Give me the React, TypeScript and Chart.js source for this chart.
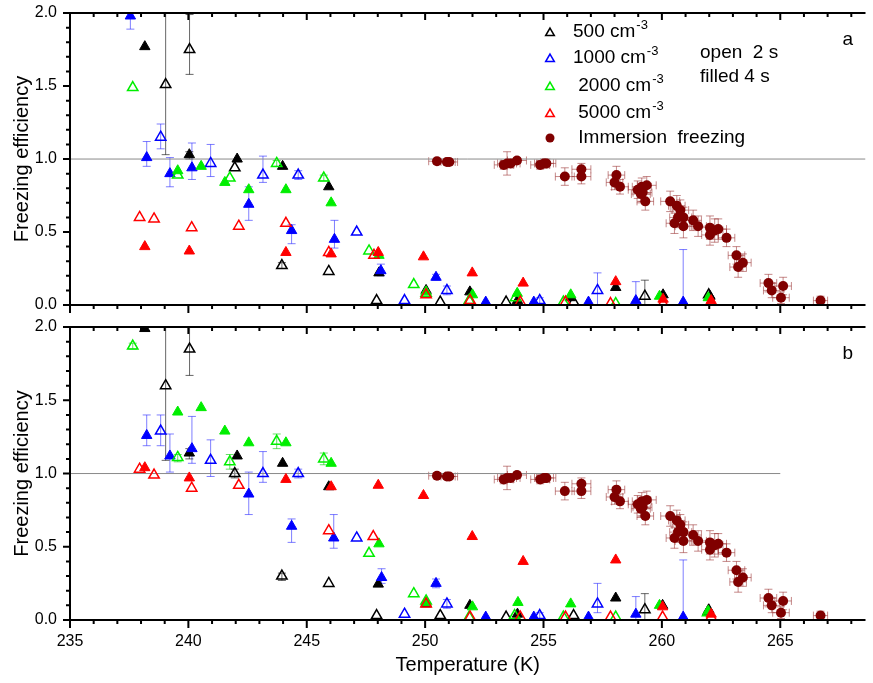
import React, { useEffect, useRef } from 'react';
import { Chart, registerables } from 'chart.js';

Chart.register(...registerables);

const FONT = '"Liberation Sans", Arial, Helvetica, sans-serif';

// ---------- axes ----------
const X_MIN = 235;
const X_MAX = 268.6;
const X_MAJOR = 5;
const X_MINOR = 1;
const Y_MIN = 0;
const Y_MAX = 2;
const Y_MAJOR = 0.5;
const Y_MINOR = 0.1;
const REF_Y = 1;
const REF_A_X = [235, 268.6];
const REF_B_X = [235, 265];

// ---------- series meta ----------
const SERIES_LABELS = ['500 cm', '1000 cm', ' 2000 cm', ' 5000 cm'];
const SERIES_COLORS = ['#000000', '#0000ff', '#00ee00', '#ff0000'];
const ERR_COLORS = ['rgba(0,0,0,0.6)', 'rgba(40,40,255,0.6)', 'rgba(0,200,0,0.6)', 'rgba(255,0,0,0.6)'];
const IMM_LABEL = ' Immersion  freezing';
const IMM_COLOR = '#800000';
const IMM_ERR_COLOR = 'rgba(150,40,40,0.55)';

// rows: [T, efficiency, errLow?, errHigh?]
// ---------- panel a ----------
const A500_OPEN = [
  [239.04, 1.51, 1.03, 2.6], [240.05, 1.75, 1.58, 1.99], [241.96, 0.94], [243.95, 0.27, 0.25, 0.29],
  [245.93, 0.23], [247.95, 0.03], [250.64, 0.02], [253.42, 0.02], [256.27, 0.02],
  [259.28, 0.06, 0, 0.17], [261.98, 0.07],
];
const A500_FILL = [
  [238.16, 1.77], [240.04, 1.03, 1.0, 1.05], [242.06, 1.0], [243.98, 0.95], [245.93, 0.81],
  [248.05, 0.22], [250.04, 0.1], [251.89, 0.09], [253.9, 0.03], [256.13, 0.05], [258.05, 0.12],
  [260.05, 0.07], [262.03, 0.06],
];
const A1000_OPEN = [
  [238.83, 1.15, 1.07, 1.24], [240.94, 0.97, 0.88, 1.1], [243.15, 0.89, 0.84, 1.02],
  [244.64, 0.89, 0.86, 0.92], [247.11, 0.5], [249.13, 0.03], [250.92, 0.1, 0.07, 0.13],
  [254.84, 0.03, 0, 0.05], [257.28, 0.1, 0, 0.22],
];
const A1000_FILL = [
  [237.55, 1.98, 1.89, 2.1], [238.24, 1.01, 0.95, 1.12], [239.22, 0.9, 0.81, 1.01],
  [240.15, 0.94, 0.86, 1.11], [242.55, 0.69, 0.58, 0.81], [244.36, 0.51, 0.42, 0.55],
  [246.17, 0.45, 0.39, 0.58], [248.13, 0.235, 0.2, 0.28], [250.46, 0.19, 0.17, 0.21],
  [252.56, 0.02], [254.59, 0.02], [256.9, 0.02], [258.9, 0.03, 0, 0.16], [260.9, 0.02, 0, 0.38],
];
const A2000_OPEN = [
  [237.65, 1.49], [239.55, 0.89], [241.75, 0.87], [243.73, 0.97, 0.95, 0.99], [245.72, 0.87, 0.85, 0.89],
  [247.63, 0.37], [249.52, 0.14], [250.04, 0.08], [251.86, 0.03], [253.82, 0.05], [255.84, 0.02],
  [258.05, 0.01],
];
const A2000_FILL = [
  [239.55, 0.92], [240.54, 0.95], [241.54, 0.84], [242.55, 0.79], [244.12, 0.79], [246.03, 0.7],
  [248.05, 0.34], [250.04, 0.09], [252.0, 0.07], [253.89, 0.08], [256.15, 0.07], [259.9, 0.06],
  [261.96, 0.05],
];
const A5000_OPEN = [
  [237.94, 0.6], [238.55, 0.59], [240.14, 0.53], [242.13, 0.54], [244.12, 0.56], [245.93, 0.36],
  [247.84, 0.34], [250.04, 0.07], [251.9, 0.03], [254.02, 0.02], [255.93, 0.02], [257.83, 0.01],
  [260.05, 0.01], [262.08, 0.01],
];
const A5000_FILL = [
  [238.16, 0.4], [240.04, 0.37], [244.12, 0.36], [246.03, 0.35], [248.02, 0.36], [249.93, 0.33],
  [251.99, 0.22], [254.14, 0.15], [258.05, 0.16], [260.05, 0.04], [262.08, 0.03],
];

// ---------- panel b ----------
const B500_OPEN = [
  [239.04, 1.6, 1.09, 2.6], [240.05, 1.85, 1.67, 2.1], [241.96, 1.0, 0.97, 1.03], [243.95, 0.3, 0.27, 0.32],
  [245.93, 0.25], [247.95, 0.03], [250.64, 0.03], [253.42, 0.02], [256.27, 0.03],
  [259.28, 0.07, 0, 0.18], [261.96, 0.06],
];
const B500_FILL = [
  [238.16, 1.99], [240.04, 1.14, 1.1, 1.17], [242.06, 1.12], [243.98, 1.07], [245.93, 0.91],
  [248.02, 0.245], [250.04, 0.11], [251.89, 0.1], [253.9, 0.04], [258.05, 0.15], [260.03, 0.1],
  [261.98, 0.07],
];
const B1000_OPEN = [
  [238.83, 1.29, 1.19, 1.4], [240.94, 1.09, 0.98, 1.23], [243.15, 1.0, 0.94, 1.15],
  [244.64, 1.0, 0.97, 1.03], [247.11, 0.56], [249.13, 0.04], [250.92, 0.11, 0.08, 0.14],
  [254.84, 0.03, 0, 0.05], [257.28, 0.11, 0.05, 0.25],
];
const B1000_FILL = [
  [238.24, 1.26, 1.19, 1.4], [239.22, 1.12, 1.01, 1.27], [240.15, 1.17, 1.07, 1.39],
  [242.55, 0.86, 0.72, 1.01], [244.36, 0.64, 0.53, 0.69], [246.14, 0.56, 0.49, 0.72],
  [248.16, 0.29, 0.25, 0.35], [250.46, 0.25, 0.22, 0.28], [252.56, 0.02], [254.59, 0.02],
  [256.9, 0.02], [258.9, 0.04, 0, 0.16], [260.9, 0.02, 0, 0.41],
];
const B2000_OPEN = [
  [237.65, 1.87, 1.85, 1.89], [239.55, 1.11, 1.08, 1.13], [241.75, 1.08, 1.03, 1.13],
  [243.73, 1.22, 1.17, 1.27], [245.72, 1.1, 1.06, 1.14], [247.63, 0.455], [249.52, 0.18],
  [250.04, 0.13], [251.86, 0.02], [253.78, 0.03], [255.84, 0.02], [258.05, 0.02], [261.93, 0.05],
];
const B2000_FILL = [
  [239.55, 1.42], [240.54, 1.45], [241.54, 1.29], [242.55, 1.21], [244.12, 1.21], [246.03, 1.07],
  [248.05, 0.52], [250.04, 0.12], [252.0, 0.09], [253.92, 0.12], [256.15, 0.11], [259.9, 0.1],
  [261.96, 0.06],
];
const B5000_OPEN = [
  [237.94, 1.03], [238.55, 0.99], [240.14, 0.9], [242.13, 0.92], [245.93, 0.61], [247.81, 0.57],
  [250.04, 0.11], [251.9, 0.02], [254.02, 0.02], [255.93, 0.02], [257.83, 0.02], [260.03, 0.02],
  [262.08, 0.02],
];
const B5000_FILL = [
  [238.16, 1.04], [240.04, 0.97], [244.12, 0.96], [246.03, 0.91], [248.02, 0.92], [249.93, 0.85],
  [251.99, 0.57], [254.14, 0.4], [258.05, 0.41], [260.03, 0.09], [262.08, 0.04],
];

// immersion freezing: [T, efficiency, T error, efficiency error]
const IMMERSION = [
  [250.5, 0.985, 0.35, 0.02], [250.92, 0.98, 0.35, 0.02], [251.02, 0.98, 0.35, 0.02],
  [253.32, 0.96, 0.4, 0.03], [253.46, 0.97, 0.4, 0.08], [253.61, 0.97, 0.4, 0.03], [253.88, 0.99, 0.4, 0.02],
  [254.86, 0.96, 0.4, 0.03], [255.02, 0.97, 0.4, 0.03], [255.12, 0.97, 0.4, 0.03],
  [255.9, 0.88, 0.4, 0.06], [256.6, 0.93, 0.4, 0.04], [256.6, 0.88, 0.4, 0.05],
  [258.08, 0.89, 0.35, 0.06], [258.0, 0.84, 0.35, 0.05], [258.23, 0.81, 0.35, 0.05],
  [259.15, 0.81, 0.4, 0.06], [258.98, 0.79, 0.4, 0.06], [259.18, 0.77, 0.4, 0.06],
  [259.36, 0.82, 0.4, 0.06], [259.11, 0.76, 0.4, 0.06], [259.3, 0.71, 0.35, 0.06],
  [260.35, 0.71, 0.4, 0.07], [260.63, 0.68, 0.35, 0.07], [260.78, 0.65, 0.35, 0.07],
  [260.91, 0.6, 0.35, 0.07], [260.68, 0.6, 0.35, 0.07], [260.53, 0.56, 0.35, 0.07],
  [260.91, 0.54, 0.35, 0.08], [261.32, 0.58, 0.35, 0.07], [261.53, 0.54, 0.35, 0.07],
  [262.03, 0.53, 0.35, 0.08], [262.03, 0.48, 0.35, 0.07], [262.23, 0.51, 0.35, 0.08],
  [262.38, 0.52, 0.35, 0.07], [262.73, 0.46, 0.35, 0.06], [263.15, 0.34, 0.35, 0.06],
  [263.22, 0.26, 0.35, 0.07], [263.42, 0.29, 0.35, 0.06], [264.5, 0.15, 0.35, 0.06],
  [264.64, 0.1, 0.35, 0.05], [265.03, 0.05, 0.35, 0.04], [265.12, 0.13, 0.35, 0.06],
  [266.7, 0.03, 0.3, 0.03],
];

const PANEL_A = { open: [A500_OPEN, A1000_OPEN, A2000_OPEN, A5000_OPEN], fill: [A500_FILL, A1000_FILL, A2000_FILL, A5000_FILL], ref: REF_A_X };
const PANEL_B = { open: [B500_OPEN, B1000_OPEN, B2000_OPEN, B5000_OPEN], fill: [B500_FILL, B1000_FILL, B2000_FILL, B5000_FILL], ref: REF_B_X };

function toPoints(rows: number[][]) {
  return rows.map((r) => ({ x: r[0], y: r[1], lo: r.length > 2 ? r[2] : null, hi: r.length > 3 ? r[3] : null }));
}
function toImmersion(rows: number[][]) {
  return rows.map((r) => ({ x: r[0], y: r[1], xlo: r[0] - r[2], xhi: r[0] + r[2], lo: r[1] - r[3], hi: r[1] + r[3] }));
}

const errorBarPlugin = {
  id: 'errorBars',
  beforeDatasetsDraw(chart: any) {
    const { ctx, chartArea: a, scales } = chart;
    const xs = scales.x;
    const ys = scales.y;
    ctx.save();
    ctx.beginPath();
    ctx.rect(a.left, a.top, a.right - a.left, a.bottom - a.top);
    ctx.clip();
    chart.data.datasets.forEach((ds: any) => {
      const eb = ds.errorBar;
      if (!eb) return;
      ctx.strokeStyle = eb.color;
      ctx.lineWidth = 1;
      const cap = eb.cap;
      ds.data.forEach((p: any) => {
        const px = xs.getPixelForValue(p.x);
        const py = ys.getPixelForValue(p.y);
        ctx.beginPath();
        if (p.lo != null && p.hi != null) {
          const y1 = ys.getPixelForValue(p.lo);
          const y2 = ys.getPixelForValue(p.hi);
          ctx.moveTo(px, y1); ctx.lineTo(px, y2);
          ctx.moveTo(px - cap, y1); ctx.lineTo(px + cap, y1);
          ctx.moveTo(px - cap, y2); ctx.lineTo(px + cap, y2);
        }
        if (p.xlo != null && p.xhi != null) {
          const x1 = xs.getPixelForValue(p.xlo);
          const x2 = xs.getPixelForValue(p.xhi);
          ctx.moveTo(x1, py); ctx.lineTo(x2, py);
          ctx.moveTo(x1, py - cap); ctx.lineTo(x1, py + cap);
          ctx.moveTo(x2, py - cap); ctx.lineTo(x2, py + cap);
        }
        ctx.stroke();
      });
    });
    ctx.restore();
  },
};

const framePlugin = {
  id: 'frame',
  afterDraw(chart: any) {
    const { ctx, chartArea: a, scales } = chart;
    const xs = scales.x;
    const ys = scales.y;
    ctx.save();
    ctx.strokeStyle = '#000';
    ctx.lineWidth = 2;
    ctx.beginPath();
    ctx.moveTo(a.left, a.top); ctx.lineTo(a.right, a.top);
    ctx.moveTo(a.left, a.top - 1); ctx.lineTo(a.left, a.bottom + 1);
    ctx.moveTo(a.left, a.bottom); ctx.lineTo(a.right, a.bottom);
    const nx = Math.floor((X_MAX - X_MIN) / X_MINOR + 1e-9);
    for (let i = 0; i <= nx; i++) {
      const v = X_MIN + i * X_MINOR;
      const px = xs.getPixelForValue(v);
      const major = Math.abs(v / X_MAJOR - Math.round(v / X_MAJOR)) < 1e-6;
      ctx.moveTo(px, a.bottom); ctx.lineTo(px, a.bottom + (major ? 8 : 4));
      ctx.moveTo(px, a.top); ctx.lineTo(px, a.top + (major ? 7 : 4));
    }
    const ny = Math.round((Y_MAX - Y_MIN) / Y_MINOR);
    for (let i = 0; i <= ny; i++) {
      const v = Y_MIN + i * Y_MINOR;
      const py = ys.getPixelForValue(v);
      const major = Math.abs(v / Y_MAJOR - Math.round(v / Y_MAJOR)) < 1e-6;
      ctx.moveTo(a.left, py); ctx.lineTo(a.left - (major ? 7 : 4), py);
    }
    ctx.stroke();
    ctx.restore();
  },
};

function drawTriangle(ctx: CanvasRenderingContext2D, x: number, y: number, r: number) {
  ctx.beginPath();
  for (let k = 0; k < 3; k++) {
    const ang = (k * 2 * Math.PI) / 3;
    const px = x + Math.sin(ang) * r;
    const py = y - Math.cos(ang) * r;
    if (k === 0) ctx.moveTo(px, py); else ctx.lineTo(px, py);
  }
  ctx.closePath();
}

function makeOverlay(panelLetter: string, withLegend: boolean) {
  return {
    id: 'overlay',
    afterDraw(chart: any) {
      const ctx = chart.ctx as CanvasRenderingContext2D;
      const a = chart.chartArea;
      ctx.save();
      ctx.fillStyle = '#000';
      ctx.textAlign = 'left';
      ctx.textBaseline = 'middle';
      ctx.font = `19px ${FONT}`;
      ctx.fillText(panelLetter, a.right - 23, a.top + 27);
      if (withLegend) {
        const mx = 550;
        const tx = 573;
        const rows = [32, 58, 86, 113, 138];
        SERIES_LABELS.forEach((lab, i) => {
          const y = rows[i];
          ctx.strokeStyle = SERIES_COLORS[i];
          ctx.lineWidth = 1.5;
          drawTriangle(ctx, mx, y + 1, 5);
          ctx.stroke();
          ctx.fillStyle = '#000';
          ctx.font = `19px ${FONT}`;
          ctx.fillText(lab, tx, y);
          const w = ctx.measureText(lab).width;
          ctx.font = `13px ${FONT}`;
          ctx.fillText('-3', tx + w + 1, y - 7);
        });
        const yi = rows[4];
        ctx.fillStyle = IMM_COLOR;
        ctx.beginPath();
        ctx.arc(mx, yi, 4.5, 0, Math.PI * 2);
        ctx.fill();
        ctx.fillStyle = '#000';
        ctx.font = `19px ${FONT}`;
        ctx.fillText(IMM_LABEL, tx, yi);
        ctx.fillText('open  2 s', 700, 53);
        ctx.fillText('filled 4 s', 700, 77);
      }
      ctx.restore();
    },
  };
}

function buildDatasets(panel: any) {
  const ds: any[] = [];
  for (let i = 3; i >= 0; i--) {
    ds.push({
      label: SERIES_LABELS[i] + ' filled',
      data: toPoints(panel.fill[i]),
      pointStyle: 'triangle',
      pointRadius: 6,
      borderColor: SERIES_COLORS[i],
      backgroundColor: SERIES_COLORS[i],
      borderWidth: 1,
      errorBar: { color: ERR_COLORS[i], cap: 4 },
    });
    ds.push({
      label: SERIES_LABELS[i] + ' open',
      data: toPoints(panel.open[i]),
      pointStyle: 'triangle',
      pointRadius: 6,
      borderColor: SERIES_COLORS[i],
      backgroundColor: 'rgba(255,255,255,0)',
      borderWidth: 1.5,
      errorBar: { color: ERR_COLORS[i], cap: 4 },
    });
  }
  ds.push({
    label: IMM_LABEL,
    data: toImmersion(IMMERSION),
    pointStyle: 'circle',
    pointRadius: 5,
    borderColor: IMM_COLOR,
    backgroundColor: IMM_COLOR,
    borderWidth: 0,
    errorBar: { color: IMM_ERR_COLOR, cap: 4 },
  });
  ds.push({
    type: 'line',
    label: 'ref',
    data: panel.ref.map((x: number) => ({ x, y: REF_Y })),
    borderColor: '#8a8a8a',
    borderWidth: 1,
    pointRadius: 0,
    showLine: true,
    fill: false,
  });
  return ds;
}

function makeConfig(panel: any, letter: string, bottom: boolean) {
  return {
    type: 'scatter',
    data: { datasets: buildDatasets(panel) },
    options: {
      responsive: false,
      animation: false,
      devicePixelRatio: 1,
      layout: { padding: { top: 13, left: 0, right: 0, bottom: 0 } },
      plugins: { legend: { display: false }, tooltip: { enabled: false } },
      scales: {
        x: {
          type: 'linear',
          min: X_MIN,
          max: X_MAX,
          grid: { display: false, drawTicks: false },
          border: { display: false },
          ticks: {
            display: bottom,
            stepSize: X_MAJOR,
            includeBounds: false,
            autoSkip: false,
            maxRotation: 0,
            padding: 12,
            color: '#000',
            font: { family: FONT, size: 16 },
            callback: (v: number) => String(Math.round(v)),
          },
          title: {
            display: bottom,
            text: 'Temperature (K)',
            color: '#000',
            font: { family: FONT, size: 20 },
            padding: { top: 0, bottom: 6 },
          },
          afterFit: (s: any) => { s.height = bottom ? 63 : 15; },
        },
        y: {
          type: 'linear',
          min: Y_MIN,
          max: Y_MAX,
          grid: { display: false, drawTicks: false },
          border: { display: false },
          ticks: {
            stepSize: Y_MAJOR,
            padding: 13,
            color: '#000',
            font: { family: FONT, size: 16, lineHeight: 0.01 },
            callback: (v: number) => Number(v).toFixed(1),
          },
          title: {
            display: true,
            text: 'Freezing efficiency',
            color: '#000',
            font: { family: FONT, size: 20 },
            padding: { top: 10, bottom: 0 },
          },
          afterFit: (s: any) => { s.width = 70; },
        },
      },
    },
    plugins: [errorBarPlugin, framePlugin, makeOverlay(letter, !bottom)],
  };
}

export default function App() {
  const topRef = useRef<HTMLCanvasElement>(null);
  const botRef = useRef<HTMLCanvasElement>(null);
  useEffect(() => {
    const c1 = new Chart(topRef.current as any, makeConfig(PANEL_A, 'a', false) as any);
    const c2 = new Chart(botRef.current as any, makeConfig(PANEL_B, 'b', true) as any);
    return () => { c1.destroy(); c2.destroy(); };
  }, []);
  return (
    <div style={{ position: 'absolute', left: 0, top: 0, width: 873, height: 683, background: '#fff' }}>
      <canvas ref={topRef} width={873} height={320} style={{ position: 'absolute', left: 0, top: 0, width: 873, height: 320 }} />
      <canvas ref={botRef} width={873} height={369} style={{ position: 'absolute', left: 0, top: 314, width: 873, height: 369 }} />
    </div>
  );
}
